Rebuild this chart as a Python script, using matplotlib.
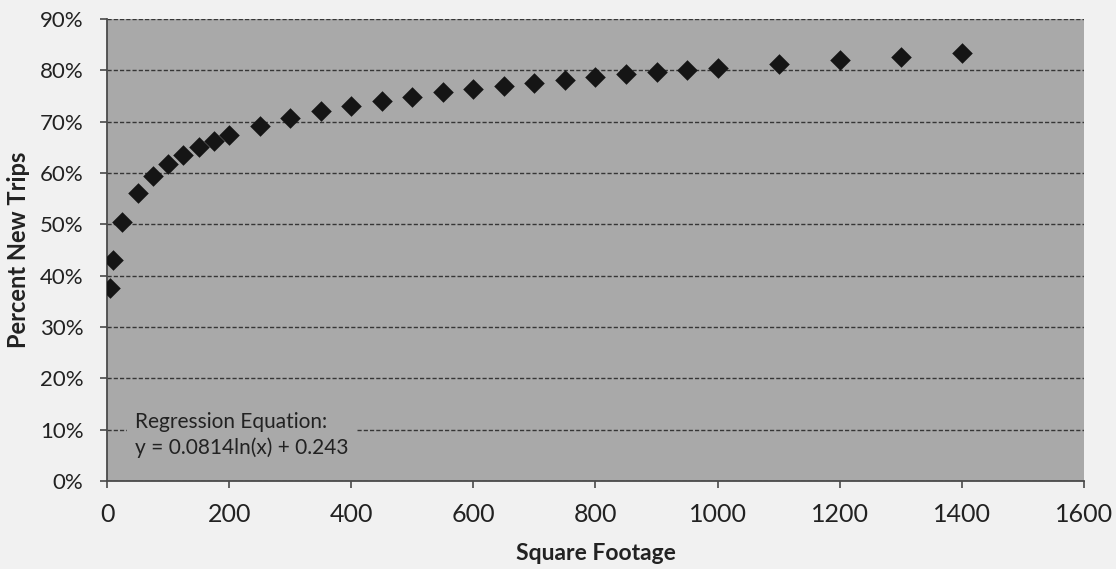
import matplotlib.pyplot as plt
from matplotlib.ticker import FuncFormatter, MultipleLocator

plt.rcParams['font.family'] = ['Lato', 'DejaVu Sans']

# square footage and share of new trips
square_feet = [5, 10, 25, 50, 75, 100, 125, 150, 175, 200,
               250, 300, 350, 400, 450, 500, 550, 600, 650, 700,
               750, 800, 850, 900, 950, 1000, 1100, 1200, 1300, 1400]
pct_new_trips = [0.375, 0.430, 0.505, 0.561, 0.594, 0.618, 0.636, 0.651, 0.663, 0.674,
                 0.692, 0.707, 0.720, 0.731, 0.741, 0.749, 0.757, 0.764, 0.770, 0.776,
                 0.782, 0.787, 0.792, 0.797, 0.801, 0.805, 0.813, 0.820, 0.826, 0.833]
equation_text = "Regression Equation:\ny = 0.0814ln(x) + 0.243"

page_bg = "#f1f1f1"
pane_bg = "#a9a9a9"
ink = "#222222"

fig = plt.figure(figsize=(11.16, 5.69), dpi=100, facecolor=page_bg)
ax = fig.add_axes([0.0959, 0.1547, 0.8754, 0.8119])
ax.set_facecolor(pane_bg)

ax.scatter(square_feet, pct_new_trips, marker="D", s=110, color="#151515",
           zorder=3, linewidths=0)

ax.set_xlim(0, 1600)
ax.set_ylim(0, 0.9)
ax.xaxis.set_major_locator(MultipleLocator(200))
ax.yaxis.set_major_locator(MultipleLocator(0.1))
ax.yaxis.set_major_formatter(FuncFormatter(lambda v, _: f"{v*100:.0f}%"))

ax.grid(axis="y", linestyle=(0, (3, 1.5)), color="#363636", linewidth=1.0, zorder=1)
ax.set_axisbelow(True)

for side in ("top", "right"):
    ax.spines[side].set_visible(False)
for side in ("left", "bottom"):
    ax.spines[side].set_color("#4a4a4a")
    ax.spines[side].set_linewidth(1.3)

ax.tick_params(axis="both", direction="out", length=5, width=1.2,
               color="#4a4a4a", labelcolor=ink)
ax.tick_params(axis="x", labelsize=18, pad=11)
ax.tick_params(axis="y", labelsize=16, pad=12)

ax.set_xlabel("Square Footage", fontsize=16.5, fontweight="bold", color=ink, labelpad=12)
ax.set_ylabel("Percent New Trips", fontsize=17, fontweight="bold", color=ink, labelpad=7)

ax.text(46, 0.09, equation_text, fontsize=15, color=ink, va="center", ha="left",
        linespacing=1.3, zorder=4,
        bbox=dict(facecolor=pane_bg, edgecolor="none", pad=6))

fig.savefig("out.png", dpi=100, facecolor=page_bg)
